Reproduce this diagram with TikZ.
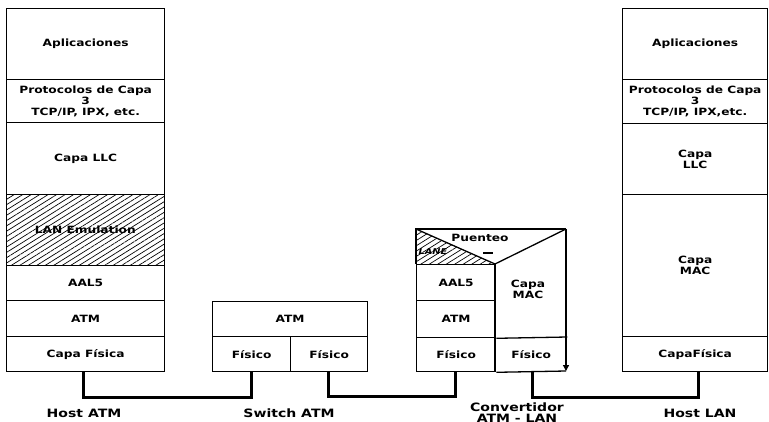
\documentclass[tikz,border=0pt]{standalone}
\usepackage{fontspec}
\newfontfamily\lblfont{DejaVu Sans}[FakeStretch=1.22]
\usetikzlibrary{patterns.meta,arrows.meta}
\begin{document}
\begin{tikzpicture}[x=1pt,y=-1pt,
  layer/.style={draw, line width=1.3pt, anchor=north west, inner sep=0pt, align=center,
    font=\lblfont\bfseries\fontsize{10}{11.2}\selectfont},
  txt/.style={inner sep=0pt, align=center, font=\lblfont\bfseries\fontsize{10}{11.2}\selectfont},
  hatch/.style={pattern={Lines[angle=32,distance=4.5pt,line width=0.7pt]}},
  link/.style={line width=3pt},
  frame/.style={line width=1.3pt},
  caption/.style={inner sep=0pt, font=\lblfont\bfseries\fontsize{11.5}{11}\selectfont}]
\useasboundingbox (0,0) rectangle (769,421);
\clip (0,0) rectangle (769,421);
% ---------- Host ATM ----------
\node[layer, minimum width=158pt, minimum height=71pt] (hA1) at (6,8) {Aplicaciones};
\node[layer, minimum width=158pt, minimum height=43pt] (hA2) at (6,79) {Protocolos de Capa\\3\\TCP/IP, IPX, etc.};
\node[layer, minimum width=158pt, minimum height=72pt] (hA3) at (6,122) {Capa LLC};
\node[layer, hatch, minimum width=158pt, minimum height=71pt] (hA4) at (6,194) {LAN Emulation};
\node[layer, minimum width=158pt, minimum height=35pt] (hA5) at (6,265) {AAL5};
\node[layer, minimum width=158pt, minimum height=36pt] (hA6) at (6,300) {ATM};
\node[layer, minimum width=158pt, minimum height=35pt] (hA7) at (6,336) {Capa Física};
% ---------- Switch ATM ----------
\node[layer, minimum width=155pt, minimum height=35pt] (sw1) at (212,301) {ATM};
\node[layer, minimum width=78pt, minimum height=35pt] (sw2) at (212,336) {Físico};
\node[layer, minimum width=77pt, minimum height=35pt] (sw3) at (290,336) {Físico};
% ---------- Convertidor ----------
\coordinate (cTL) at (416,229);
\coordinate (cTR) at (566,229);
\coordinate (cM) at (495,264);
\coordinate (cML) at (416,264);
\coordinate (cBR) at (566,371);
\fill[hatch] (cTL) -- (cM) -- (cML) -- cycle;
\node[layer, minimum width=79pt, minimum height=36pt] (cv1) at (416,264) {AAL5};
\node[layer, minimum width=79pt, minimum height=37pt] (cv2) at (416,300) {ATM};
\node[layer, minimum width=79pt, minimum height=34pt] (cv3) at (416,337) {Físico};
\node[layer, draw=none, minimum width=71pt, minimum height=34pt] (cv4) at (495,337) {Físico};
\node[txt] (cvmac) at (528,289) {Capa\\MAC};
\node[txt] (cvp) at (480,238) {Puenteo};
\node[txt, font=\lblfont\bfseries\itshape\fontsize{8}{8}\selectfont] (cvl) at (433,252) {LANE};
\draw[frame] (cTR) -- (cTL) -- (cML);
\draw[frame] (cTL) -- (cM) -- (cTR);
\draw[frame] (cM) -- (cv4.south west);
\draw[frame] (cv2.south east) -- (cv4.north east);
\draw[frame] (cv3.south east) -- (cBR);
\draw[frame, -{Triangle[length=6pt,width=6pt]}] (cTR) -- (cBR);
\draw[line width=2.2pt] (483,253) -- (493,253);
% ---------- Host LAN ----------
\node[layer, minimum width=145pt, minimum height=71pt] (hL1) at (622,8) {Aplicaciones};
\node[layer, minimum width=145pt, minimum height=44pt] (hL2) at (622,79) {Protocolos de Capa\\3\\TCP/IP, IPX,etc.};
\node[layer, minimum width=145pt, minimum height=71pt] (hL3) at (622,123) {Capa\\LLC};
\node[layer, minimum width=145pt, minimum height=142pt] (hL4) at (622,194) {Capa\\MAC};
\node[layer, minimum width=145pt, minimum height=35pt] (hL5) at (622,336) {CapaFísica};
% ---------- links ----------
\draw[link] (hA7.south -| 83,0) -- (83,397) -- (251,397) -- (sw2.south -| 251,0);
\draw[link] (sw3.south -| 328,0) -- (328,396) -- (455,396) -- (cv3.south -| 455,0);
\draw[link] (cv4.south -| 532,0) -- (532,397) -- (698,397) -- (hL5.south -| 698,0);
% ---------- captions ----------
\node[caption] (capA) at (84,413) {Host ATM};
\node[caption] (capS) at (289,413) {Switch ATM};
\node[caption, align=center] (capC) at (517,413) {Convertidor\\ATM - LAN};
\node[caption] (capL) at (700,413) {Host LAN};
\end{tikzpicture}
\end{document}
